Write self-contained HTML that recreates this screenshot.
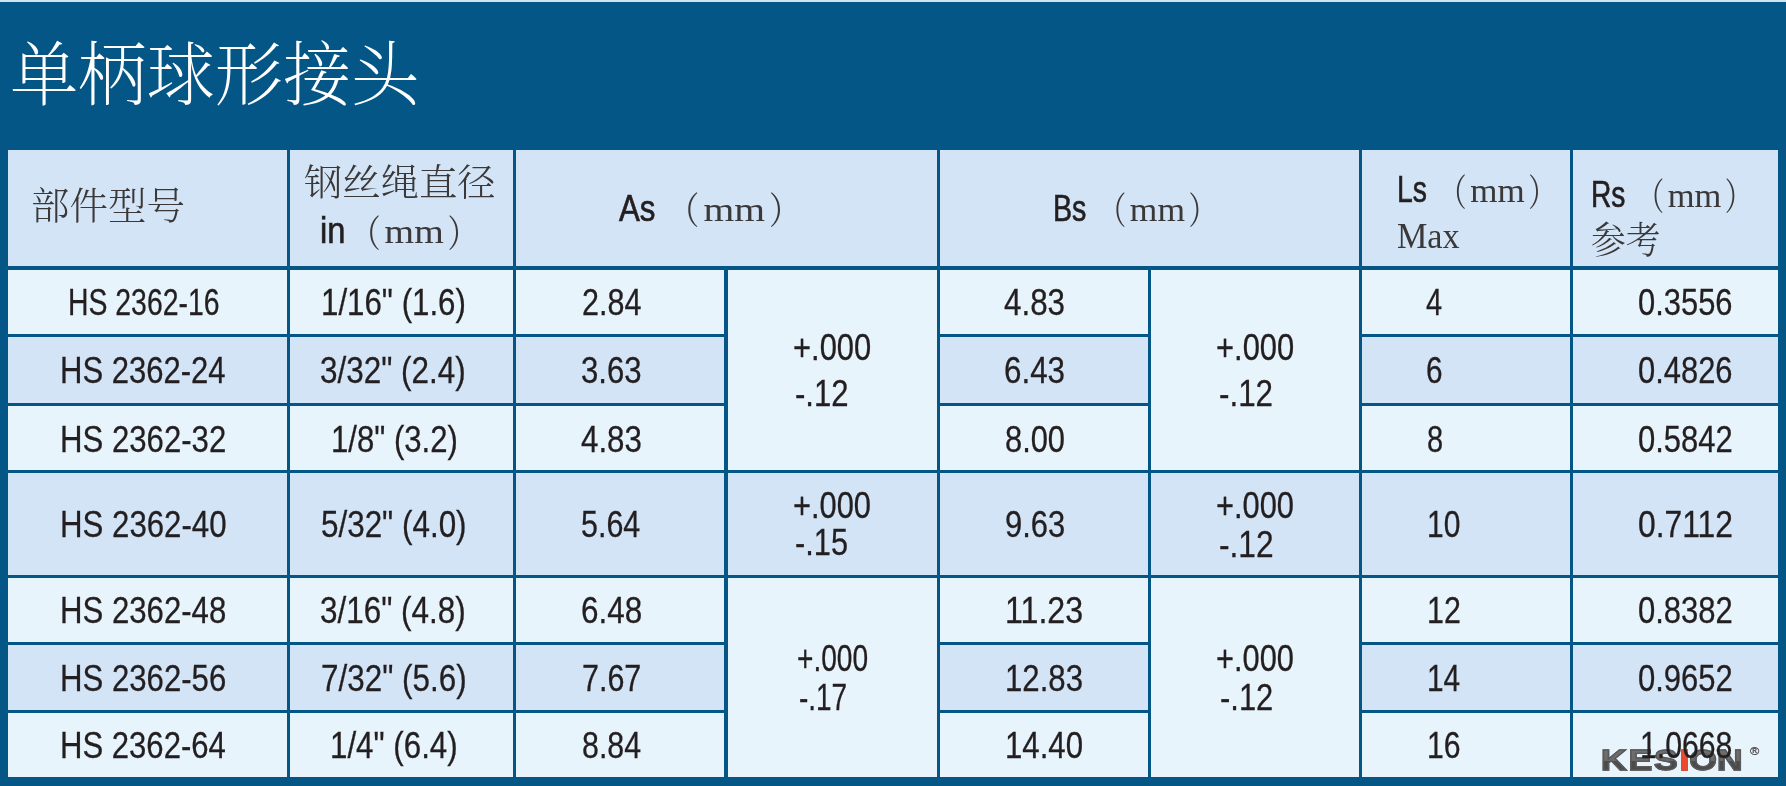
<!DOCTYPE html>
<html lang="zh-CN">
<head>
<meta charset="utf-8">
<title>单柄球形接头</title>
<style>
html,body{margin:0;padding:0}
body{width:1786px;height:786px;overflow:hidden;background:#045687;position:relative;color:#231f20;
 font-family:'Liberation Sans','Noto Sans CJK SC',sans-serif}
.strip{position:absolute;left:0;top:0;width:1786px;height:2px;background:#cfe5ee}
.c{position:absolute}
.l{background:#e8f4fc}
.d{background:#d3e4f6}
.t{position:absolute;margin:0;white-space:nowrap;line-height:1;font-weight:400;transform-origin:0 0;z-index:1}
.s{font-family:'Liberation Sans','Noto Sans CJK SC',sans-serif;-webkit-text-stroke:.3px currentColor}
.sh{font-family:'Liberation Sans','Noto Sans CJK SC',sans-serif;-webkit-text-stroke:.65px currentColor}
.mm{font-size:.93em;margin:0 .045em}
.sb{font-family:'Liberation Sans','Noto Sans CJK SC',sans-serif;font-weight:700}
.r{font-family:'Liberation Serif','Noto Serif CJK SC',serif}
.rl{font-family:'Liberation Serif','Noto Serif CJK SC',serif;font-weight:300}
.rx{font-family:'Liberation Serif','Noto Serif CJK SC',serif;font-weight:200}
b{font-weight:inherit}
.ri{color:#ea4a2f}
.lg{font-family:'Liberation Sans','Noto Sans CJK SC',sans-serif;font-weight:700;-webkit-text-stroke:1.3px #5a5a5a;background:linear-gradient(#727272 0,#6a6a6a 52%,#4b4b4b 52%,#4b4b4b 100%);-webkit-background-clip:text;background-clip:text;-webkit-text-fill-color:transparent;color:#5a5a5a}
.lg .ri{-webkit-text-fill-color:#ea4a2f;-webkit-text-stroke-color:#ea4a2f}
.kes{letter-spacing:.05em}
.pl,.pr{font-style:normal;display:inline-block;position:relative;top:.1em;font-weight:400}
.pl{transform:scale(.74,1.03);transform-origin:80% 50%}
.pr{transform:scale(.74,1.03);transform-origin:20% 50%}
</style>
</head>
<body>
<div class="strip"></div>
<div class="c d" style="left:8px;top:150px;width:279px;height:116px"></div>
<div class="c d" style="left:290px;top:150px;width:223px;height:116px"></div>
<div class="c d" style="left:516px;top:150px;width:421px;height:116px"></div>
<div class="c d" style="left:940px;top:150px;width:419px;height:116px"></div>
<div class="c d" style="left:1362px;top:150px;width:208px;height:116px"></div>
<div class="c d" style="left:1573px;top:150px;width:205px;height:116px"></div>
<div class="c l" style="left:8px;top:270px;width:279px;height:64px"></div>
<div class="c l" style="left:290px;top:270px;width:223px;height:64px"></div>
<div class="c l" style="left:516px;top:270px;width:208px;height:64px"></div>
<div class="c l" style="left:940px;top:270px;width:208px;height:64px"></div>
<div class="c l" style="left:1362px;top:270px;width:208px;height:64px"></div>
<div class="c l" style="left:1573px;top:270px;width:205px;height:64px"></div>
<div class="c d" style="left:8px;top:337px;width:279px;height:66px"></div>
<div class="c d" style="left:290px;top:337px;width:223px;height:66px"></div>
<div class="c d" style="left:516px;top:337px;width:208px;height:66px"></div>
<div class="c d" style="left:940px;top:337px;width:208px;height:66px"></div>
<div class="c d" style="left:1362px;top:337px;width:208px;height:66px"></div>
<div class="c d" style="left:1573px;top:337px;width:205px;height:66px"></div>
<div class="c l" style="left:8px;top:406px;width:279px;height:64px"></div>
<div class="c l" style="left:290px;top:406px;width:223px;height:64px"></div>
<div class="c l" style="left:516px;top:406px;width:208px;height:64px"></div>
<div class="c l" style="left:940px;top:406px;width:208px;height:64px"></div>
<div class="c l" style="left:1362px;top:406px;width:208px;height:64px"></div>
<div class="c l" style="left:1573px;top:406px;width:205px;height:64px"></div>
<div class="c d" style="left:8px;top:473px;width:279px;height:102px"></div>
<div class="c d" style="left:290px;top:473px;width:223px;height:102px"></div>
<div class="c d" style="left:516px;top:473px;width:208px;height:102px"></div>
<div class="c d" style="left:940px;top:473px;width:208px;height:102px"></div>
<div class="c d" style="left:1362px;top:473px;width:208px;height:102px"></div>
<div class="c d" style="left:1573px;top:473px;width:205px;height:102px"></div>
<div class="c l" style="left:8px;top:578px;width:279px;height:64px"></div>
<div class="c l" style="left:290px;top:578px;width:223px;height:64px"></div>
<div class="c l" style="left:516px;top:578px;width:208px;height:64px"></div>
<div class="c l" style="left:940px;top:578px;width:208px;height:64px"></div>
<div class="c l" style="left:1362px;top:578px;width:208px;height:64px"></div>
<div class="c l" style="left:1573px;top:578px;width:205px;height:64px"></div>
<div class="c d" style="left:8px;top:645px;width:279px;height:65px"></div>
<div class="c d" style="left:290px;top:645px;width:223px;height:65px"></div>
<div class="c d" style="left:516px;top:645px;width:208px;height:65px"></div>
<div class="c d" style="left:940px;top:645px;width:208px;height:65px"></div>
<div class="c d" style="left:1362px;top:645px;width:208px;height:65px"></div>
<div class="c d" style="left:1573px;top:645px;width:205px;height:65px"></div>
<div class="c l" style="left:8px;top:713px;width:279px;height:64px"></div>
<div class="c l" style="left:290px;top:713px;width:223px;height:64px"></div>
<div class="c l" style="left:516px;top:713px;width:208px;height:64px"></div>
<div class="c l" style="left:940px;top:713px;width:208px;height:64px"></div>
<div class="c l" style="left:1362px;top:713px;width:208px;height:64px"></div>
<div class="c l" style="left:1573px;top:713px;width:205px;height:64px"></div>
<div class="c l" style="left:728px;top:270px;width:209px;height:200px"></div>
<div class="c d" style="left:728px;top:473px;width:209px;height:102px"></div>
<div class="c l" style="left:728px;top:578px;width:209px;height:199px"></div>
<div class="c l" style="left:1151px;top:270px;width:208px;height:200px"></div>
<div class="c d" style="left:1151px;top:473px;width:208px;height:102px"></div>
<div class="c l" style="left:1151px;top:578px;width:208px;height:199px"></div>
<h1 class="t rx" style="left:9.62px;top:42.03px;font-size:70px;transform:scaleX(0.9751);color:#fff;">单柄球形接头</h1>
<span class="t rl" style="left:30.85px;top:187.65px;font-size:37.5px;transform:scaleX(1.0263);color:#3a3838;">部件型号</span>
<span class="t rl" style="left:304.26px;top:165.32px;font-size:37px;transform:scaleX(1.0362);color:#3a3838;">钢丝绳直径</span>
<span class="t sh" style="left:319.94px;top:212.2px;font-size:37px;transform:scaleX(0.8808);">in</span>
<span class="t r" style="left:342.1px;top:213.2px;font-size:36px;transform:scaleX(1.1355);color:#3a3838;"><i class="pl">（</i><b class="mm">mm</b><i class="pr">）</i></span>
<span class="t sh" style="left:619.22px;top:189.8px;font-size:37px;transform:scaleX(0.8444);">As</span>
<span class="t r" style="left:659.32px;top:190.8px;font-size:36px;transform:scaleX(1.1832);color:#3a3838;"><i class="pl">（</i><b class="mm">mm</b><i class="pr">）</i></span>
<span class="t sh" style="left:1052.57px;top:189.8px;font-size:37px;transform:scaleX(0.7747);">Bs</span>
<span class="t r" style="left:1089.62px;top:190.8px;font-size:36px;transform:scaleX(1.0619);color:#3a3838;"><i class="pl">（</i><b class="mm">mm</b><i class="pr">）</i></span>
<span class="t sh" style="left:1397.19px;top:171px;font-size:37px;transform:scaleX(0.766);">Ls</span>
<span class="t r" style="left:1430.7px;top:172px;font-size:36px;transform:scaleX(1.0465);color:#3a3838;"><i class="pl">（</i><b class="mm">mm</b><i class="pr">）</i></span>
<span class="t r" style="left:1396.85px;top:217.8px;font-size:36px;transform:scaleX(0.9488);color:#3a3838;">Max</span>
<span class="t sh" style="left:1590.61px;top:175.8px;font-size:37px;transform:scaleX(0.7614);">Rs</span>
<span class="t r" style="left:1629.08px;top:176.8px;font-size:36px;transform:scaleX(1.031);color:#3a3838;"><i class="pl">（</i><b class="mm">mm</b><i class="pr">）</i></span>
<span class="t rl" style="left:1590.66px;top:220.98px;font-size:38px;transform:scaleX(0.9119);color:#3a3838;">参考</span>
<span class="t lg" style="left:1600.8px;top:745.0px;font-size:29.6px;transform:scaleX(1.2009);z-index:0;"><b class="kes">KES</b><b class="ri">I</b>ON</span>
<span class="t s" style="left:1749.7px;top:745.5px;font-size:11.5px;transform:scaleX(1.0941);color:#555;">®</span>
<span class="t s" style="left:67.89px;top:284.4px;font-size:37px;transform:scaleX(0.7674);">HS 2362-16</span>
<span class="t s" style="left:59.89px;top:351.5px;font-size:37px;transform:scaleX(0.8387);">HS 2362-24</span>
<span class="t s" style="left:59.88px;top:420.5px;font-size:37px;transform:scaleX(0.842);">HS 2362-32</span>
<span class="t s" style="left:59.68px;top:506.1px;font-size:37px;transform:scaleX(0.8434);">HS 2362-40</span>
<span class="t s" style="left:59.68px;top:592.4px;font-size:37px;transform:scaleX(0.8419);">HS 2362-48</span>
<span class="t s" style="left:59.68px;top:659.6px;font-size:37px;transform:scaleX(0.8419);">HS 2362-56</span>
<span class="t s" style="left:59.69px;top:726.9px;font-size:37px;transform:scaleX(0.8397);">HS 2362-64</span>
<span class="t s" style="left:320.99px;top:284.4px;font-size:37px;transform:scaleX(0.8449);">1/16" (1.6)</span>
<span class="t s" style="left:320.14px;top:351.5px;font-size:37px;transform:scaleX(0.8499);">3/32" (2.4)</span>
<span class="t s" style="left:330.8px;top:420.5px;font-size:37px;transform:scaleX(0.8403);">1/8" (3.2)</span>
<span class="t s" style="left:320.64px;top:506.1px;font-size:37px;transform:scaleX(0.8487);">5/32" (4.0)</span>
<span class="t s" style="left:320.44px;top:592.4px;font-size:37px;transform:scaleX(0.8499);">3/16" (4.8)</span>
<span class="t s" style="left:320.61px;top:659.6px;font-size:37px;transform:scaleX(0.8489);">7/32" (5.6)</span>
<span class="t s" style="left:330.09px;top:726.9px;font-size:37px;transform:scaleX(0.8458);">1/4" (6.4)</span>
<span class="t s" style="left:582.36px;top:284.4px;font-size:37px;transform:scaleX(0.8245);">2.84</span>
<span class="t s" style="left:581.45px;top:351.5px;font-size:37px;transform:scaleX(0.8419);">3.63</span>
<span class="t s" style="left:581.47px;top:420.5px;font-size:37px;transform:scaleX(0.8459);">4.83</span>
<span class="t s" style="left:581.37px;top:506.1px;font-size:37px;transform:scaleX(0.8229);">5.64</span>
<span class="t s" style="left:580.91px;top:592.4px;font-size:37px;transform:scaleX(0.8495);">6.48</span>
<span class="t s" style="left:582.16px;top:659.6px;font-size:37px;transform:scaleX(0.8234);">7.67</span>
<span class="t s" style="left:581.57px;top:726.9px;font-size:37px;transform:scaleX(0.8201);">8.84</span>
<span class="t s" style="left:1003.96px;top:284.4px;font-size:37px;transform:scaleX(0.8473);">4.83</span>
<span class="t s" style="left:1003.92px;top:351.5px;font-size:37px;transform:scaleX(0.848);">6.43</span>
<span class="t s" style="left:1004.75px;top:420.5px;font-size:37px;transform:scaleX(0.8332);">8.00</span>
<span class="t s" style="left:1004.55px;top:506.1px;font-size:37px;transform:scaleX(0.8362);">9.63</span>
<span class="t s" style="left:1004.83px;top:592.4px;font-size:37px;transform:scaleX(0.8698);">11.23</span>
<span class="t s" style="left:1004.89px;top:659.6px;font-size:37px;transform:scaleX(0.8428);">12.83</span>
<span class="t s" style="left:1004.89px;top:726.9px;font-size:37px;transform:scaleX(0.8428);">14.40</span>
<span class="t s" style="left:1426.41px;top:284.4px;font-size:37px;transform:scaleX(0.7842);">4</span>
<span class="t s" style="left:1426.49px;top:351.5px;font-size:37px;transform:scaleX(0.8057);">6</span>
<span class="t s" style="left:1426.93px;top:420.5px;font-size:37px;transform:scaleX(0.7831);">8</span>
<span class="t s" style="left:1427.37px;top:506.1px;font-size:37px;transform:scaleX(0.8107);">10</span>
<span class="t s" style="left:1427.35px;top:592.4px;font-size:37px;transform:scaleX(0.8216);">12</span>
<span class="t s" style="left:1427.39px;top:659.6px;font-size:37px;transform:scaleX(0.8053);">14</span>
<span class="t s" style="left:1427.36px;top:726.9px;font-size:37px;transform:scaleX(0.8161);">16</span>
<span class="t s" style="left:1638.36px;top:284.4px;font-size:37px;transform:scaleX(0.8353);">0.3556</span>
<span class="t s" style="left:1638.36px;top:351.5px;font-size:37px;transform:scaleX(0.8353);">0.4826</span>
<span class="t s" style="left:1638.35px;top:420.5px;font-size:37px;transform:scaleX(0.8372);">0.5842</span>
<span class="t s" style="left:1637.93px;top:506.1px;font-size:37px;transform:scaleX(0.8595);">0.7112</span>
<span class="t s" style="left:1637.95px;top:592.4px;font-size:37px;transform:scaleX(0.8381);">0.8382</span>
<span class="t s" style="left:1637.95px;top:659.6px;font-size:37px;transform:scaleX(0.8381);">0.9652</span>
<span class="t s" style="left:1640.16px;top:726.9px;font-size:37px;transform:scaleX(0.8165);">1.0668</span>
<span class="t s" style="left:792.75px;top:328.9px;font-size:37px;transform:scaleX(0.8352);">+.000</span>
<span class="t s" style="left:795.34px;top:375.3px;font-size:37px;transform:scaleX(0.8413);">-.12</span>
<span class="t s" style="left:1215.75px;top:328.9px;font-size:37px;transform:scaleX(0.8352);">+.000</span>
<span class="t s" style="left:1218.63px;top:375.3px;font-size:37px;transform:scaleX(0.8479);">-.12</span>
<span class="t s" style="left:792.85px;top:487.3px;font-size:37px;transform:scaleX(0.833);">+.000</span>
<span class="t s" style="left:795.45px;top:523.9px;font-size:37px;transform:scaleX(0.8311);">-.15</span>
<span class="t s" style="left:1216.05px;top:487.3px;font-size:37px;transform:scaleX(0.833);">+.000</span>
<span class="t s" style="left:1218.92px;top:525.5px;font-size:37px;transform:scaleX(0.8562);">-.12</span>
<span class="t s" style="left:796.86px;top:640.0px;font-size:37px;transform:scaleX(0.7593);">+.000</span>
<span class="t s" style="left:798.97px;top:678.9px;font-size:37px;transform:scaleX(0.7554);">-.17</span>
<span class="t s" style="left:1216.15px;top:640.0px;font-size:37px;transform:scaleX(0.8319);">+.000</span>
<span class="t s" style="left:1220.05px;top:678.9px;font-size:37px;transform:scaleX(0.8364);">-.12</span>
</body>
</html>
